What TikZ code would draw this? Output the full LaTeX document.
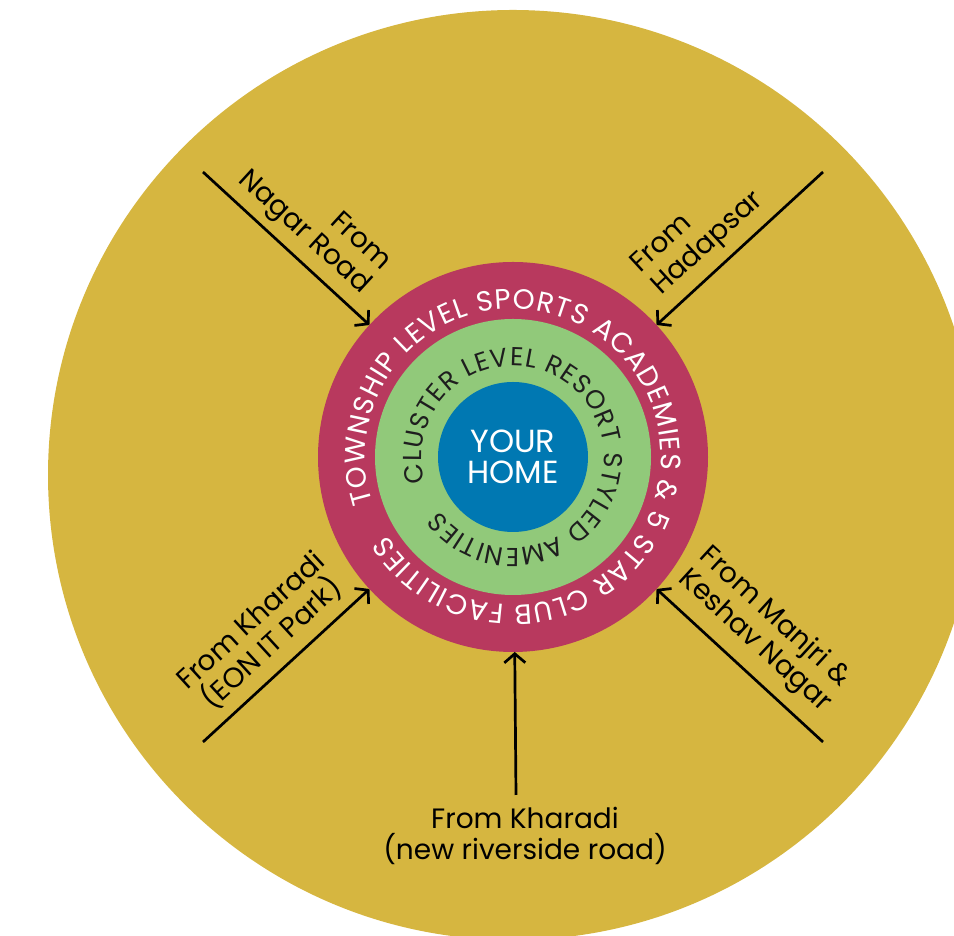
\documentclass[tikz,border=0pt]{standalone}
\usepackage{fontspec}
\setmainfont{Poppins}
\usetikzlibrary{arrows.meta,decorations.text}
\definecolor{gold}{RGB}{214,182,64}
\definecolor{ringred}{RGB}{184,57,94}
\definecolor{ringgreen}{RGB}{145,201,122}
\definecolor{homeblue}{RGB}{0,120,178}
\definecolor{darktext}{RGB}{30,30,30}
\begin{document}
\begin{tikzpicture}[x=1pt,y=1pt,
  disc/.style={circle,inner sep=0pt,outer sep=0pt,draw=none},
  road/.style={line width=2.7pt,-{Straight Barb[length=9pt,width=21pt,line width=2.7pt]}},
  lbl/.style={font=\fontsize{28}{31}\selectfont,text=black,inner sep=0pt}]
\useasboundingbox (0,0) rectangle (954,936);
\clip (0,0) rectangle (954,936);
\fill[gold] (513,461) circle[radius=465];
\coordinate (C) at (513,479);
\node[disc,fill=ringred,minimum size=390pt] (ring) at (C) {};
\node[disc,fill=ringgreen,minimum size=276pt] (cluster) at (C) {};
\node[disc,fill=homeblue,minimum size=150pt,text=white,align=center,
  font=\fontsize{32}{31}\selectfont] (home) at (C) {YOUR\\HOME};
% curved texts
\path[decorate,decoration={text along path,text align=fit to path,text color=white,
  text={|\fontsize{28}{28}\selectfont|TOWNSHIP LEVEL SPORTS ACADEMIES {\&} 5 STAR CLUB FACILITIES}}]
  (C) ++(198:148) arc[start angle=198,end angle=-148,radius=148];
\path[decorate,decoration={text along path,text align=fit to path,text color=darktext,
  text={|\fontsize{26}{26}\selectfont|CLUSTER LEVEL RESORT STYLED AMENITIES}}]
  (C) ++(196:91) arc[start angle=196,end angle=-144,radius=91];
% roads
\coordinate (nagar) at (203,764);
\coordinate (hadapsar) at (823,764);
\coordinate (eon) at (203,194);
\coordinate (manjri) at (823,194);
\coordinate (river) at (516,141);
\draw[road] (nagar) -- (ring);
\draw[road] (hadapsar) -- (ring);
\draw[road] (eon) -- (ring);
\draw[road] (manjri) -- (ring);
\draw[road] (river) -- (ring);
% labels
\node[lbl,rotate=-42.5,align=right] (lnagar) at (314,714) {From\\Nagar Road};
\node[lbl,rotate=42.5,align=left] (lhad) at (698,703) {From\\Hadapsar};
\node[lbl,rotate=42.5,align=center] (leon) at (262,303) {From Kharadi\\(EON IT Park)};
\node[lbl,rotate=-42.5,align=left] (lman) at (765,306) {From Manjri \&\\Keshav Nagar};
\node[lbl,align=center] (lriver) at (525,100) {From Kharadi\\(new riverside road)};
\end{tikzpicture}
\end{document}
